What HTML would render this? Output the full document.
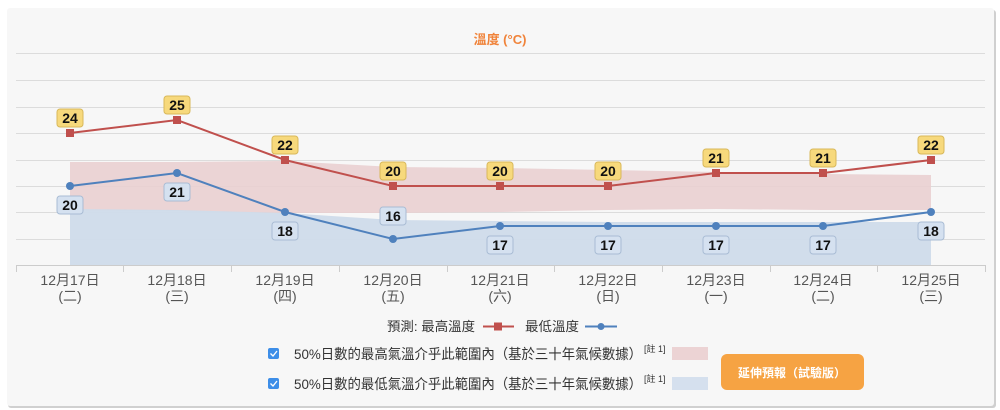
<!DOCTYPE html>
<html><head><meta charset="utf-8"><style>
html,body{margin:0;padding:0;background:#fff;width:1000px;height:410px;overflow:hidden}
svg text{font-family:"Liberation Sans","Noto Sans CJK TC",sans-serif}
</style></head><body>
<svg width="1000" height="410" viewBox="0 0 1000 410" xmlns="http://www.w3.org/2000/svg">
<rect x="8" y="10" width="988" height="398" rx="3" fill="#d0d0d0"/>
<rect x="7" y="8" width="987" height="398" rx="3" fill="#f7f7f7"/>
<text x="500" y="44" text-anchor="middle" font-size="13" font-weight="bold" fill="#f0833a">溫度 (°C)</text>
<g stroke="#dcdcdc" stroke-width="1">
<line x1="16" x2="985" y1="53.5" y2="53.5"/><line x1="16" x2="985" y1="80.5" y2="80.5"/>
<line x1="16" x2="985" y1="107.5" y2="107.5"/><line x1="16" x2="985" y1="133.5" y2="133.5"/>
<line x1="16" x2="985" y1="160.5" y2="160.5"/><line x1="16" x2="985" y1="186.5" y2="186.5"/>
<line x1="16" x2="985" y1="212.5" y2="212.5"/><line x1="16" x2="985" y1="239.5" y2="239.5"/>
</g>
<polygon fill="#e9cfd0" opacity="0.9" points="70,162 177,162 285,161 393,167 500,168 608,170 716,172 823,174 931,175 931,210 823,210 716,209 608,210 500,212 393,213 285,213 177,211 70,210"/>
<polygon fill="#cfdbea" opacity="0.95" points="70,209 177,210 285,213 393,220 500,221 608,222 716,222 823,222 931,222 931,265 70,265"/>
<line x1="16" x2="985" y1="265.5" y2="265.5" stroke="#ccc"/>
<g stroke="#ccc"><line x1="16.5" x2="16.5" y1="265" y2="272"/><line x1="123.5" x2="123.5" y1="265" y2="272"/><line x1="231.5" x2="231.5" y1="265" y2="272"/><line x1="339.5" x2="339.5" y1="265" y2="272"/><line x1="447.5" x2="447.5" y1="265" y2="272"/><line x1="554.5" x2="554.5" y1="265" y2="272"/><line x1="662.5" x2="662.5" y1="265" y2="272"/><line x1="770.5" x2="770.5" y1="265" y2="272"/><line x1="877.5" x2="877.5" y1="265" y2="272"/><line x1="985.5" x2="985.5" y1="265" y2="272"/></g>
<polyline fill="none" stroke="#c0504d" stroke-width="2" points="70,133 177,120 285,160 393,186 500,186 608,186 716,173 823,173 931,160"/>
<polyline fill="none" stroke="#4f81bd" stroke-width="2" points="70,186 177,173 285,212 393,239 500,226 608,226 716,226 823,226 931,212"/>
<g fill="#c0504d"><rect x="66" y="129" width="8" height="8"/><rect x="173" y="116" width="8" height="8"/><rect x="281" y="156" width="8" height="8"/><rect x="389" y="182" width="8" height="8"/><rect x="496" y="182" width="8" height="8"/><rect x="604" y="182" width="8" height="8"/><rect x="712" y="169" width="8" height="8"/><rect x="819" y="169" width="8" height="8"/><rect x="927" y="156" width="8" height="8"/></g>
<g fill="#4f81bd"><circle cx="70" cy="186" r="4"/><circle cx="177" cy="173" r="4"/><circle cx="285" cy="212" r="4"/><circle cx="393" cy="239" r="4"/><circle cx="500" cy="226" r="4"/><circle cx="608" cy="226" r="4"/><circle cx="716" cy="226" r="4"/><circle cx="823" cy="226" r="4"/><circle cx="931" cy="212" r="4"/></g>
<g font-size="14" font-weight="bold" text-anchor="middle" fill="#111">
<g fill="#f7d97c" stroke="#d8b85a" stroke-width="1">
<rect x="57" y="109" width="26" height="18" rx="3"/><rect x="164" y="96" width="26" height="18" rx="3"/><rect x="272" y="136" width="26" height="18" rx="3"/><rect x="380" y="162" width="26" height="18" rx="3"/><rect x="487" y="162" width="26" height="18" rx="3"/><rect x="595" y="162" width="26" height="18" rx="3"/><rect x="703" y="149" width="26" height="18" rx="3"/><rect x="810" y="149" width="26" height="18" rx="3"/><rect x="918" y="136" width="26" height="18" rx="3"/>
</g>
<g fill="#d5e1f0" stroke="#a9bcd4" stroke-width="1">
<rect x="57" y="196" width="26" height="18" rx="3"/><rect x="164" y="183" width="26" height="18" rx="3"/><rect x="272" y="222" width="26" height="18" rx="3"/><rect x="380" y="207" width="26" height="18" rx="3"/><rect x="487" y="236" width="26" height="18" rx="3"/><rect x="595" y="236" width="26" height="18" rx="3"/><rect x="703" y="236" width="26" height="18" rx="3"/><rect x="810" y="236" width="26" height="18" rx="3"/><rect x="918" y="222" width="26" height="18" rx="3"/>
</g>
<text x="70" y="123">24</text><text x="177" y="110">25</text><text x="285" y="150">22</text><text x="393" y="176">20</text><text x="500" y="176">20</text><text x="608" y="176">20</text><text x="716" y="163">21</text><text x="823" y="163">21</text><text x="931" y="150">22</text>
<text x="70" y="210">20</text><text x="177" y="197">21</text><text x="285" y="236">18</text><text x="393" y="221">16</text><text x="500" y="250">17</text><text x="608" y="250">17</text><text x="716" y="250">17</text><text x="823" y="250">17</text><text x="931" y="236">18</text>
</g>
<g font-size="14" fill="#555" text-anchor="middle">
<text x="70" y="285">12月17日</text><text x="70" y="301">(二)</text>
<text x="177" y="285">12月18日</text><text x="177" y="301">(三)</text>
<text x="285" y="285">12月19日</text><text x="285" y="301">(四)</text>
<text x="393" y="285">12月20日</text><text x="393" y="301">(五)</text>
<text x="500" y="285">12月21日</text><text x="500" y="301">(六)</text>
<text x="608" y="285">12月22日</text><text x="608" y="301">(日)</text>
<text x="716" y="285">12月23日</text><text x="716" y="301">(一)</text>
<text x="823" y="285">12月24日</text><text x="823" y="301">(二)</text>
<text x="931" y="285">12月25日</text><text x="931" y="301">(三)</text>
</g>
<g font-size="13" fill="#333">
<text x="387" y="331" textLength="88" lengthAdjust="spacingAndGlyphs">預測: 最高溫度</text>
<line x1="483" x2="514" y1="326.5" y2="326.5" stroke="#c0504d" stroke-width="2"/><rect x="494" y="322.5" width="8" height="8" fill="#c0504d"/>
<text x="525" y="331" textLength="54" lengthAdjust="spacingAndGlyphs">最低溫度</text>
<line x1="585" x2="617" y1="326.5" y2="326.5" stroke="#4f81bd" stroke-width="2"/><circle cx="601" cy="326.5" r="3.5" fill="#4f81bd"/>
<rect x="268" y="348" width="11" height="11" rx="2" fill="#3d8ee8"/><path d="M270.5 353.5 l2.5 2.5 l4 -5" stroke="#fff" stroke-width="1.3" fill="none"/>
<rect x="268" y="378" width="11" height="11" rx="2" fill="#3d8ee8"/><path d="M270.5 383.5 l2.5 2.5 l4 -5" stroke="#fff" stroke-width="1.3" fill="none"/>
<text x="294" y="359" font-size="14" textLength="348" lengthAdjust="spacingAndGlyphs">50%日數的最高氣溫介乎此範圍內（基於三十年氣候數據）</text>
<text x="644" y="352" font-size="9">[註 1]</text>
<text x="294" y="389" font-size="14" textLength="348" lengthAdjust="spacingAndGlyphs">50%日數的最低氣溫介乎此範圍內（基於三十年氣候數據）</text>
<text x="644" y="382" font-size="9">[註 1]</text>
<rect x="672" y="347" width="36" height="13" fill="#ecd3d4"/>
<rect x="672" y="377" width="36" height="13" fill="#d5e0ee"/>
</g>
<rect x="721" y="354" width="143" height="36" rx="6" fill="#f6a343"/>
<text x="792" y="377" text-anchor="middle" font-size="12" font-weight="bold" fill="#fff">延伸預報（試驗版）</text>
</svg>
</body></html>
